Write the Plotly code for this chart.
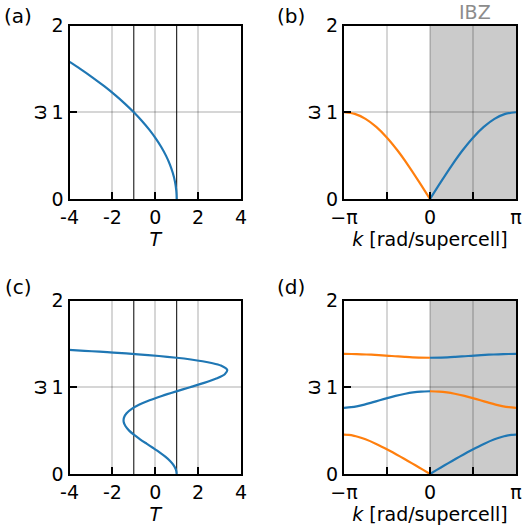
import plotly.graph_objects as go

# ---------------- data ----------------
# (a) omega vs T, single chain
a_omega = [0, 0.05, 0.1, 0.2, 0.3, 0.4, 0.5, 0.6, 0.7, 0.8, 0.9, 1.0, 1.1, 1.2, 1.3, 1.4, 1.5, 1.58]
a_T = [1.0, 0.995, 0.98, 0.92, 0.82, 0.68, 0.5, 0.28, 0.02, -0.28, -0.62, -1.0, -1.42, -1.88, -2.38, -2.92, -3.5, -3.99]

# (b) dispersion, k in units of pi (irreducible zone 0..pi)
b_k = [0, 0.125, 0.25, 0.375, 0.5, 0.625, 0.75, 0.875, 1.0]
b_omega = [0, 0.195, 0.383, 0.556, 0.707, 0.831, 0.924, 0.981, 1.0]

# (c) omega vs T, supercell
c_omega = [0, 0.05, 0.1, 0.15, 0.2, 0.25, 0.3, 0.35, 0.4, 0.45, 0.5, 0.55, 0.6, 0.65, 0.7,
           0.75, 0.8, 0.85, 0.9, 0.95, 1.0, 1.05, 1.1, 1.15, 1.2, 1.25, 1.28, 1.3, 1.32,
           1.34, 1.36, 1.38, 1.40, 1.41, 1.42, 1.43]
c_T = [1.0, 0.965, 0.860, 0.692, 0.469, 0.202, -0.095, -0.404, -0.707, -0.985, -1.218,
       -1.386, -1.472, -1.459, -1.337, -1.096, -0.736, -0.264, 0.306, 0.947, 1.622, 2.279,
       2.847, 3.243, 3.357, 3.062, 2.626, 2.204, 1.664, 0.992, 0.174, -0.802, -1.954,
       -2.601, -3.297, -4.046]

# (d) three bands, k in units of pi (0..pi)
d1_k = [0, 0.084, 0.170, 0.257, 0.345, 0.435, 0.530, 0.632, 0.750, 0.841, 0.882, 0.945, 1.0]
d1_omega = [0, 0.05, 0.1, 0.15, 0.2, 0.25, 0.3, 0.35, 0.4, 0.43, 0.44, 0.45, 0.453]
d2_k = [0, 0.104, 0.197, 0.287, 0.401, 0.497, 0.585, 0.672, 0.763, 0.852, 0.917, 1.0]
d2_omega = [0.954, 0.95, 0.94, 0.925, 0.9, 0.875, 0.85, 0.825, 0.8, 0.78, 0.77, 0.7633]
d3_k = [0, 0.204, 0.294, 0.371, 0.444, 0.517, 0.595, 0.682, 0.796, 0.914, 1.0]
d3_omega = [1.3398, 1.345, 1.35, 1.355, 1.36, 1.365, 1.37, 1.375, 1.38, 1.383, 1.3836]

T_ticks = [-4, -2, 0, 2, 4]
k_ticks = [-1, -0.5, 0, 0.5, 1]
k_ticktext = ["\u2212\u03c0", "", "0", "", "\u03c0"]
w_ticks = [0, 1, 2]
panel_labels = ["(a)", "(b)", "(c)", "(d)"]

# ---------------- style ----------------
FONT = "DejaVu Sans"
FS = 19
BLUE = "#1f77b4"
ORANGE = "#ff7f0e"
LW = 2.2
GRID = "rgba(0,0,0,0.16)"
SHADE = "#cbcbcb"

fig = go.Figure()

def line(x, y, color, xa, ya):
    fig.add_trace(go.Scatter(x=x, y=y, mode="lines",
                             line=dict(color=color, width=LW, shape="spline", smoothing=0.8),
                             xaxis=xa, yaxis=ya, showlegend=False, hoverinfo="skip"))

# (a)
line(a_T, a_omega, BLUE, "x", "y")
# (b)
line(b_k, b_omega, BLUE, "x2", "y2")
line([-k for k in b_k], b_omega, ORANGE, "x2", "y2")
# (c)
line(c_T, c_omega, BLUE, "x3", "y3")
# (d)
line(d1_k, d1_omega, BLUE, "x4", "y4")
line([-k for k in d1_k], d1_omega, ORANGE, "x4", "y4")
line(d2_k, d2_omega, ORANGE, "x4", "y4")
line([-k for k in d2_k], d2_omega, BLUE, "x4", "y4")
line(d3_k, d3_omega, BLUE, "x4", "y4")
line([-k for k in d3_k], d3_omega, ORANGE, "x4", "y4")

W, H = 527, 531
XL = [69.5 / W, 241 / W]
XR = [344 / W, 516 / W]
YT = [1 - 199 / H, 1 - 25.5 / H]
YB = [1 - 474 / H, 1 - 300.5 / H]

tfont = dict(size=FS, color="black", family=FONT)
axis_common = dict(showline=True, linecolor="black", linewidth=2, mirror=True,
                   ticks="inside", ticklen=7, tickwidth=2, tickcolor="black",
                   showgrid=True, gridcolor=GRID, gridwidth=1.5, zeroline=False,
                   automargin=False, tickfont=tfont)

def xaxis(domain, anchor, kind):
    d = dict(axis_common, domain=domain, anchor=anchor)
    if kind == "T":
        d.update(range=[-4, 4], tickvals=T_ticks, ticktext=[str(v) for v in T_ticks],
                 title=dict(text="<i>T</i>", font=tfont, standoff=6))
    else:
        d.update(range=[-1, 1], tickvals=k_ticks, ticktext=k_ticktext,
                 title=dict(text="<i>k</i> [rad/supercell]", font=tfont, standoff=6))
    return d

def yaxis(domain, anchor):
    return dict(axis_common, domain=domain, anchor=anchor, range=[0, 2], tickvals=w_ticks,
                title=dict(text="\u03c9", font=tfont, standoff=0))

fig.update_layout(
    template="none",
    width=W, height=H,
    margin=dict(l=0, r=0, t=0, b=0, pad=0),
    paper_bgcolor="white", plot_bgcolor="white",
    font=dict(family=FONT, size=FS, color="black"),
    xaxis=xaxis(XL, "y", "T"), yaxis=yaxis(YT, "x"),
    xaxis2=xaxis(XR, "y2", "k"), yaxis2=yaxis(YT, "x2"),
    xaxis3=xaxis(XL, "y3", "T"), yaxis3=yaxis(YB, "x3"),
    xaxis4=xaxis(XR, "y4", "k"), yaxis4=yaxis(YB, "x4"),
)

shapes = []
for xr, yr in (("x2", "y2"), ("x4", "y4")):
    shapes.append(dict(type="rect", xref=xr, yref=yr, x0=0, x1=1, y0=0, y1=2,
                       fillcolor=SHADE, line=dict(width=0), layer="below"))
for xr, yr in (("x", "y"), ("x3", "y3")):
    for xv in (-1, 1):
        shapes.append(dict(type="line", xref=xr, yref=yr, x0=xv, x1=xv, y0=0, y1=2,
                           line=dict(color="black", width=1), layer="below"))
fig.update_layout(shapes=shapes)

label_pos = [(18, 16), (291, 16), (18, 287), (291, 287)]
ann = []
for lab, (px, py) in zip(panel_labels, label_pos):
    ann.append(dict(text=lab, x=px / W, y=1 - py / H, xref="paper", yref="paper",
                    xanchor="center", yanchor="middle", showarrow=False,
                    font=dict(size=20, color="black", family=FONT)))
ann.append(dict(text="IBZ", x=475 / W, y=1 - 12 / H, xref="paper", yref="paper",
                xanchor="center", yanchor="middle", showarrow=False,
                font=dict(size=FS, color="#8c8c8c", family=FONT)))
fig.update_layout(annotations=ann)

fig.write_html("out.html",
               config={"displayModeBar": False},
               post_script="document.body.style.margin='0px';document.body.style.overflow='hidden';")
